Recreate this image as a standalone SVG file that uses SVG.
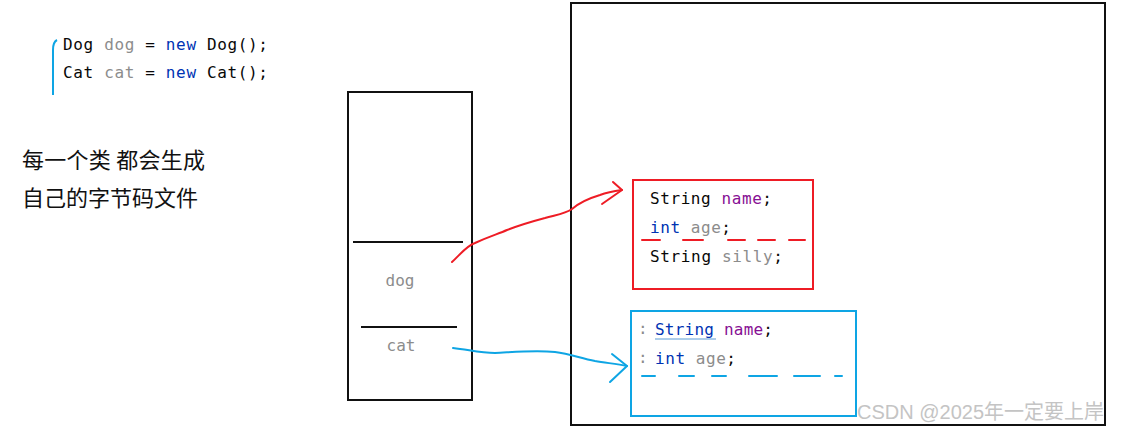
<svg xmlns="http://www.w3.org/2000/svg" width="1127" height="432" viewBox="0 0 1127 432">
<style>
.code{font-family:"DejaVu Sans Mono","Liberation Mono",monospace;font-size:16px;fill:#080808}
.g{fill:#8c8c8c}.kw{fill:#0033b3}.p{fill:#871094}
.cn{font-family:"Noto Sans CJK SC",sans-serif;font-size:22px;fill:#111}
.box{fill:none;stroke:#111;stroke-width:2}
.red{fill:none;stroke:#ee1c25;stroke-width:2;stroke-linecap:round;stroke-linejoin:round}
.blue{fill:none;stroke:#0ea5e4;stroke-width:2;stroke-linecap:round;stroke-linejoin:round}
</style>
<rect width="1127" height="432" fill="#fff"/>
<g id="code">
<path d="M57 40 Q53 42 53 50 L53 95" fill="none" stroke="#0ea5e4" stroke-width="2"/>
<text class="code" x="63" y="50" textLength="205">Dog <tspan class="g">dog</tspan> = <tspan class="kw">new</tspan> Dog();</text>
<text class="code" x="63" y="78" textLength="205">Cat <tspan class="g">cat</tspan> = <tspan class="kw">new</tspan> Cat();</text>
</g>
<g id="note">
<text class="cn" x="22" y="168" textLength="183">每一个类 都会生成</text>
<text class="cn" x="22" y="206" textLength="176">自己的字节码文件</text>
</g>
<g id="stack">
<rect class="box" x="348" y="92" width="124" height="308"/>
<line x1="353" y1="242" x2="463" y2="242" stroke="#111" stroke-width="2"/>
<line x1="361" y1="327" x2="457" y2="327" stroke="#111" stroke-width="2"/>
<text class="code g" x="400" y="286" text-anchor="middle">dog</text>
<text class="code g" x="401" y="351" text-anchor="middle">cat</text>
</g>
<g id="heap">
<rect class="box" x="571" y="3" width="534" height="422"/>
</g>
<g id="dogObj">
<rect x="633" y="180" width="180" height="109" fill="none" stroke="#ee1c25" stroke-width="2"/>
<text class="code" x="650" y="204" textLength="122">String <tspan class="p">name</tspan>;</text>
<text class="code" x="650" y="233" textLength="81"><tspan class="kw">int</tspan> <tspan class="g">age</tspan>;</text>
<text class="code" x="650" y="262" textLength="133">String <tspan class="g">silly</tspan>;</text>
<path class="red" d="M642 240H660M683 240H703M728 240H745M758 240H775M789 240H805"/>
</g>
<g id="catObj">
<rect x="631" y="311" width="225" height="105" fill="none" stroke="#0ea5e4" stroke-width="2"/>
<text class="code g" x="638" y="334" font-size="12">:</text>
<text class="code" x="655" y="335" textLength="118"><tspan class="kw">String</tspan> <tspan class="p">name</tspan>;</text>
<line x1="655" y1="339" x2="716" y2="339" stroke="#5b9bd5" stroke-width="1"/>
<text class="code g" x="638" y="363" font-size="12">:</text>
<text class="code" x="655" y="364" textLength="81"><tspan class="kw">int</tspan> <tspan class="g">age</tspan>;</text>
<path class="blue" d="M642 376H655M679 376H694M712 376H726M749 376H777M794 376H820M835 376H842"/>
</g>
<g id="connectors">
<path class="red" d="M452 262 C460 255 466 246 475 243 C490 236 498 234 507 230 C520 225 530 222 545 218 C555 215 565 214 572 209 C580 202 590 198 600 195 C608 192 615 191 622 190"/>
<path class="red" d="M613 182 L622 190 L602 204"/>
<path class="blue" d="M453 348 C470 350 480 353 495 353 C515 352 535 350 555 352 C570 354 580 358 595 361 C607 363 617 364 627 366"/>
<path class="blue" d="M612 354 L627 366 L610 382"/>
</g>
<text x="857" y="419" font-family="Liberation Sans,'Noto Sans CJK SC',sans-serif" font-size="20" fill="#c4c4c4">CSDN @2025年一定要上岸</text>
</svg>
